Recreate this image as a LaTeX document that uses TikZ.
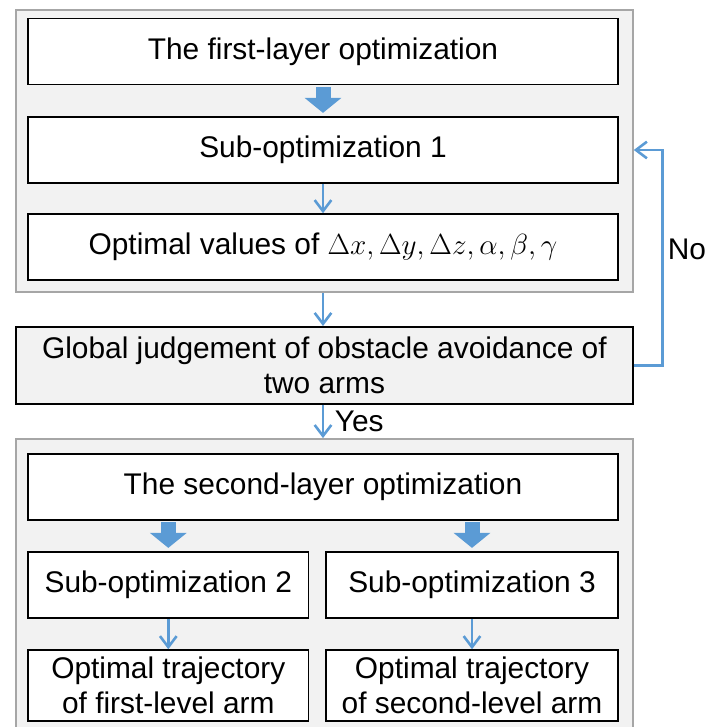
\documentclass[tikz,border=0pt]{standalone}
\usepackage{fontspec}
\setmainfont{Liberation Sans}
\usetikzlibrary{arrows.meta}
\definecolor{arrblue}{HTML}{5B9BD5}
\definecolor{panelgray}{HTML}{F2F2F2}
\definecolor{panelline}{HTML}{A6A6A6}

\begin{document}
\begin{tikzpicture}[x=0.03cm,y=-0.03cm,
  font=\fontsize{25.5}{30}\selectfont,
  box/.style={draw=black,line width=1.3pt,fill=white,inner sep=0pt,align=center},
  panel/.style={draw=panelline,line width=1.5pt,fill=panelgray,inner sep=0pt},
  thinarrow/.style={draw=arrblue,line width=2.2pt,-{Straight Barb[length=0.33cm,width=0.5cm]}},
  fatarrow/.style={draw=arrblue,line width=0.45cm,-{Triangle[length=0.45cm,width=1.08cm]},
    shorten <=0.05cm,shorten >=0.1cm}]
\path[use as bounding box,clip] (0,0) rectangle (705,727);

\node[panel,minimum width=18.51cm,minimum height=8.46cm] (box1) at (324.4,151) {};
\node[box,fill=panelgray,minimum width=18.51cm,minimum height=2.31cm] (glob) at (324.4,365.3)
  {Global judgement of obstacle avoidance of\\two arms};
\node[panel,minimum width=18.51cm,minimum height=9.03cm] (box2) at (324.4,589.5) {};

\node[box,minimum width=17.7cm,minimum height=1.98cm] (first) at (323,51.5) {The first-layer optimization};
\node[box,minimum width=17.7cm,minimum height=1.98cm] (sub1) at (323,150) {Sub-optimization 1};
\node[box,minimum width=17.7cm,minimum height=1.98cm] (optv) at (323,247)
  {Optimal values of $\Delta x, \Delta y, \Delta z, \alpha, \beta, \gamma$};

\node[box,minimum width=17.7cm,minimum height=1.98cm] (second) at (323,487) {The second-layer optimization};
\node[box,minimum width=8.42cm,minimum height=1.98cm] (sub2) at (168.3,585) {Sub-optimization 2};
\node[box,minimum width=8.76cm,minimum height=1.98cm] (sub3) at (472,585) {Sub-optimization 3};
\node[box,minimum width=8.42cm,minimum height=2.13cm] (traj1) at (168.3,685.5)
  {Optimal trajectory\\of first-level arm};
\node[box,minimum width=8.76cm,minimum height=2.13cm] (traj2) at (472,685.5)
  {Optimal trajectory\\of second-level arm};

\draw[fatarrow] (first.south) -- (sub1.north);
\draw[thinarrow] (sub1.south) -- (optv.north);
\draw[thinarrow] (box1.south -| optv.south) -- (glob.north -| optv.south);
\draw[thinarrow] (glob.east) -- ++(29,0) |- node[pos=0.27,right]{No} (sub1.east -| box1.east);
\draw[thinarrow] (glob.south -| optv.south) -- node[right,xshift=0.2cm]{Yes} (box2.north -| optv.south);

\draw[fatarrow] (second.south -| sub2.north) -- (sub2.north);
\draw[fatarrow] (second.south -| sub3.north) -- (sub3.north);
\draw[thinarrow] (sub2.south) -- (traj1.north);
\draw[thinarrow] (sub3.south) -- (traj2.north);
\end{tikzpicture}
\end{document}
